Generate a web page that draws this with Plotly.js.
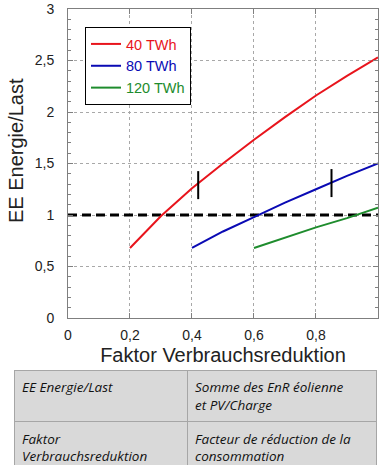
<!DOCTYPE html>
<html>
<head>
<meta charset="utf-8">
<script src="https://cdn.plot.ly/plotly-3.0.1.min.js"></script>
<style>html,body{margin:0;padding:0;background:#fff;}#chart{width:381px;height:470px;}</style>
</head>
<body>
<div id="chart"></div>
<script>
// Data
const seriesNames = ['40 TWh', '80 TWh', '120 TWh'];
const x40 = [0.2, 0.3, 0.4, 0.5, 0.6, 0.7, 0.8, 0.9, 1.0];
const y40 = [0.68, 0.99, 1.26, 1.50, 1.73, 1.95, 2.16, 2.35, 2.53];
const x80 = [0.4, 0.5, 0.6, 0.7, 0.8, 0.9, 1.0];
const y80 = [0.68, 0.84, 0.98, 1.12, 1.25, 1.38, 1.50];
const x120 = [0.6, 0.7, 0.8, 0.9, 1.0];
const y120 = [0.68, 0.78, 0.88, 0.97, 1.07];
const refX = [0, 1];
const refY = [1, 1];
const tickMarkX = [0.42, 0.85];
const tickMarkY = [1.29, 1.31];
const xTickVals = [0, 0.2, 0.4, 0.6, 0.8, 1];
const yTickVals = [0, 0.5, 1, 1.5, 2, 2.5, 3];
const xTitle = 'Faktor Verbrauchsreduktion';
const yTitle = 'EE Energie/Last';
const tableCol1 = ['EE Energie/Last', 'Faktor<br>Verbrauchsreduktion'];
const tableCol2 = ['Somme des EnR éolienne<br>et PV/Charge', 'Facteur de réduction de la<br>consommation'];

const colors = ['#e8141c', '#0a0ab4', '#1e8c2d'];
const xs = [x40, x80, x120];
const ys = [y40, y80, y120];

const traces = [];
traces.push({
  x: refX, y: refY, mode: 'lines', showlegend: false, hoverinfo: 'skip',
  line: {color: '#000', width: 3, dash: '9px,5px'}
});
for (let i = 0; i < 3; i++) {
  traces.push({
    x: xs[i], y: ys[i], mode: 'lines', type: 'scatter',
    name: '<span style="color:' + colors[i] + '">' + seriesNames[i] + '</span>',
    line: {color: colors[i], width: 2}
  });
}
traces.push({
  x: tickMarkX, y: tickMarkY, mode: 'markers', showlegend: false, hoverinfo: 'skip',
  marker: {symbol: 'line-ns-open', size: 20, color: '#000', line: {color: '#000', width: 2}}
});
const tableFont = {family: '"Open Sans", Lato, sans-serif', size: 13.5, color: '#111'};
traces.push({
  type: 'table',
  domain: {x: [0, 0.997], y: [0.0044, 0.2135]},
  columnwidth: [174, 190],
  header: {
    values: ['<i>' + tableCol1[0] + '</i>', '<i>' + tableCol2[0] + '</i>'],
    align: 'left', height: 49,
    fill: {color: '#d9d9d9'}, line: {color: '#a6a6a6', width: 1},
    font: tableFont
  },
  cells: {
    values: [['<i>' + tableCol1[1] + '</i>'], ['<i>' + tableCol2[1] + '</i>']],
    align: 'left', height: 47,
    fill: {color: '#d9d9d9'}, line: {color: '#a6a6a6', width: 1},
    font: tableFont
  }
});

const axisCommon = {
  showline: true, linecolor: '#7f7f7f', linewidth: 1, mirror: 'allticks',
  showgrid: true, gridcolor: '#a8a8a8', griddash: 'dot', gridwidth: 1,
  zeroline: false, ticks: 'inside', ticklen: 5, tickcolor: '#7f7f7f',
  tickfont: {family: '"Liberation Sans", Arial, sans-serif', size: 14, color: '#222'},
  automargin: false
};

const layout = {
  width: 381, height: 470,
  margin: {l: 14, r: 3, t: 9, b: 2, autoexpand: false},
  paper_bgcolor: '#fff', plot_bgcolor: '#fff',
  separators: ', ',
  font: {family: '"Liberation Sans", Arial, sans-serif', color: '#222'},
  xaxis: Object.assign({}, axisCommon, {
    domain: [0.14835, 1], range: [0, 1], tickvals: xTickVals,
    ticklabelstandoff: 4,
    title: {text: xTitle, font: {size: 20, color: '#222'}, standoff: 6}
  }),
  yaxis: Object.assign({}, axisCommon, {
    domain: [0.3268, 1], range: [0, 3], tickvals: yTickVals,
    ticklabelstandoff: 10,
    minor: {dtick: 0.1, ticks: 'inside', ticklen: 3, tickcolor: '#7f7f7f', showgrid: false}
  }),
  annotations: [{
    text: yTitle, textangle: -90, showarrow: false,
    xref: 'paper', yref: 'paper', x: 0.0055, y: 0.6906,
    xanchor: 'center', yanchor: 'middle',
    font: {family: '"Liberation Sans", Arial, sans-serif', size: 20, color: '#222'}
  }],
  legend: {
    x: 0.195, y: 0.9608, xanchor: 'left', yanchor: 'top',
    bgcolor: '#fff', bordercolor: '#000', borderwidth: 1,
    font: {family: '"Liberation Sans", Arial, sans-serif', size: 14.5},
    tracegroupgap: 0
  }
};

Plotly.newPlot('chart', traces, layout, {displayModeBar: false, staticPlot: true});
</script>
</body>
</html>
